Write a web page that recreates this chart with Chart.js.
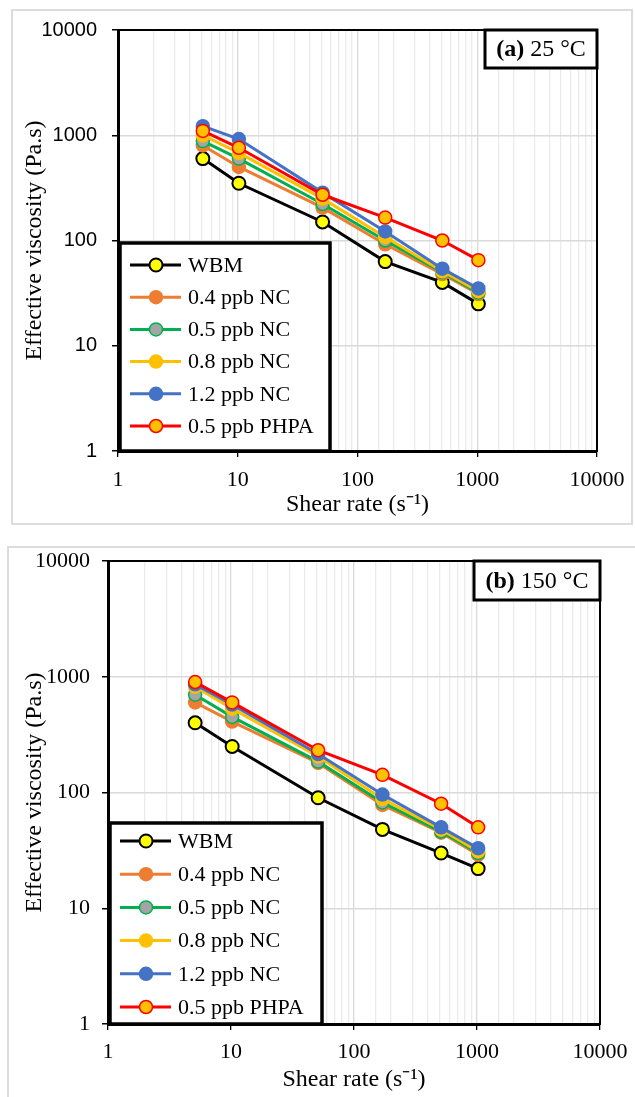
<!DOCTYPE html>
<html>
<head>
<meta charset="utf-8">
<script src="https://cdn.jsdelivr.net/npm/chart.js@4"></script>
<style>
    body { margin: 0; background: #fff; }
    .frame { position: absolute; border: 2px solid #dcdcdc; box-sizing: border-box; }
    canvas { position: absolute; }
</style>
</head>
<body>
<div class="frame" style="left:11px;top:9px;width:622px;height:516px;"></div>
<canvas id="chartA" width="620" height="513" style="left:12px;top:10px;"></canvas>
<div class="frame" style="left:7px;top:546px;width:640px;height:560px;"></div>
<canvas id="chartB" width="627" height="550" style="left:8px;top:547px;"></canvas>
<script>
// Shear rates (s-1) of the viscometer readings
const shearRate = [5.11, 10.22, 51.1, 170.3, 510.9, 1021.8];
const seriesNames = ['WBM', '0.4 ppb NC', '0.5 ppb NC', '0.8 ppb NC', '1.2 ppb NC', '0.5 ppb PHPA'];

// (a) 25 °C
const wbm25 = [600, 350, 150, 63, 40, 25];
const nc04At25 = [800, 500, 205, 92, 48, 31];
const nc05At25 = [880, 600, 222, 100, 50, 32];
const nc08At25 = [1000, 680, 250, 108, 51, 33];
const nc12At25 = [1220, 920, 285, 122, 54, 35];
const phpa25 = [1100, 760, 272, 165, 100, 65];

// (b) 150 °C
const wbm150 = [400, 250, 90, 48, 30, 22];
const nc04At150 = [600, 410, 180, 78, 45, 29];
const nc05At150 = [700, 450, 185, 82, 46, 30];
const nc08At150 = [820, 530, 205, 88, 48, 31];
const nc12At150 = [860, 575, 215, 96, 50, 33];
const phpa150 = [900, 600, 232, 142, 80, 50];

const axisTicks = [1, 10, 100, 1000, 10000];

const lineColors = ['#000000', '#ED7D31', '#00B050', '#FFC000', '#4472C4', '#FF0000'];
const markerColors = ['#FFFF00', '#ED7D31', '#A5A5A5', '#FFC000', '#4472C4', '#FFC000'];
const markerBorders = ['#000000', '#ED7D31', '#00B050', '#FFC000', '#4472C4', '#FF0000'];

const serif = '"Liberation Serif", "Times New Roman", serif';

function isDecade(value) {
    return axisTicks.some(t => Math.abs(t - value) < 1e-6 * t);
}

function decadeLabel(value) {
    return isDecade(value) ? String(Math.round(value)) : '';
}

// plot frame (top + right edges)
const plotFrame = {
    id: 'plotFrame',
    beforeDatasetsDraw(chart) {
        const { ctx, chartArea: a } = chart;
        ctx.save();
        ctx.strokeStyle = '#000';
        ctx.lineWidth = 2;
        ctx.strokeRect(a.left, a.top, a.right - a.left, a.bottom - a.top);
        ctx.restore();
    }
};

// legend in a black box at the bottom left of the plot
const boxLegend = {
    id: 'boxLegend',
    afterDraw(chart, args, opts) {
        const { ctx, chartArea: a } = chart;
        const x = a.left + 2;
        const y = a.bottom - opts.height;
        ctx.save();
        ctx.fillStyle = '#fff';
        ctx.fillRect(x, y, opts.width, opts.height);
        ctx.strokeStyle = '#000';
        ctx.lineWidth = 3.5;
        ctx.strokeRect(x, y, opts.width, opts.height);
        ctx.font = '22px ' + serif;
        ctx.textBaseline = 'middle';
        chart.data.datasets.forEach((ds, i) => {
            const ry = y + opts.firstRow + i * opts.rowGap;
            ctx.strokeStyle = ds.borderColor;
            ctx.lineWidth = 3;
            ctx.beginPath();
            ctx.moveTo(x + 10, ry);
            ctx.lineTo(x + 61, ry);
            ctx.stroke();
            ctx.beginPath();
            ctx.arc(x + 36, ry, ds.pointRadius, 0, Math.PI * 2);
            ctx.fillStyle = ds.pointBackgroundColor;
            ctx.fill();
            ctx.lineWidth = ds.pointBorderWidth;
            ctx.strokeStyle = ds.pointBorderColor;
            ctx.stroke();
            ctx.fillStyle = '#000';
            ctx.fillText(ds.label, x + 68, ry + 1);
        });
        ctx.restore();
    }
};

// "(a) 25 °C" tag at the top right
const panelTag = {
    id: 'panelTag',
    afterDraw(chart, args, opts) {
        const { ctx, chartArea: a } = chart;
        const x = a.right - opts.width;
        const y = a.top;
        ctx.save();
        ctx.fillStyle = '#fff';
        ctx.fillRect(x, y, opts.width, opts.height);
        ctx.strokeStyle = '#000';
        ctx.lineWidth = 3;
        ctx.strokeRect(x, y, opts.width, opts.height);
        ctx.fillStyle = '#000';
        ctx.textBaseline = 'middle';
        ctx.font = 'bold 24px ' + serif;
        const w1 = ctx.measureText(opts.tag).width;
        ctx.font = '24px ' + serif;
        const rest = ' ' + opts.text;
        const w2 = ctx.measureText(rest).width;
        const tx = x + (opts.width - w1 - w2) / 2;
        ctx.font = 'bold 24px ' + serif;
        ctx.fillText(opts.tag, tx, y + opts.height / 2 + 1);
        ctx.font = '24px ' + serif;
        ctx.fillText(rest, tx + w1, y + opts.height / 2 + 1);
        ctx.restore();
    }
};

function makeDatasets(seriesValues, radius) {
    return seriesValues.map((values, i) => ({
        label: seriesNames[i],
        data: shearRate.map((s, k) => ({ x: s, y: values[k] })),
        borderColor: lineColors[i],
        borderWidth: 3,
        pointRadius: radius,
        pointBackgroundColor: markerColors[i],
        pointBorderColor: markerBorders[i],
        pointBorderWidth: i === 0 ? 2 : 1.5,
        tension: 0,
        fill: false,
        order: seriesValues.length - 1 - i
    }));
}

function makeChart(canvasId, seriesValues, p) {
    const ctx = document.getElementById(canvasId).getContext('2d');
    return new Chart(ctx, {
        type: 'line',
        data: { datasets: makeDatasets(seriesValues, p.radius) },
        plugins: [plotFrame, boxLegend, panelTag],
        options: {
            responsive: false,
            animation: false,
            layout: { padding: { top: p.padTop, right: p.padRight, left: 0, bottom: 0 } },
            scales: {
                x: {
                    type: 'logarithmic',
                    min: 1,
                    max: 10000,
                    title: {
                        display: true,
                        text: 'Shear rate (s⁻¹)',
                        color: '#000',
                        font: { family: serif, size: 24 },
                        padding: { top: 0, bottom: p.xTitlePad }
                    },
                    grid: {
                        color: c => (c.tick && isDecade(c.tick.value)) ? '#d9d9d9' : '#ebebeb',
                        tickColor: c => (c.tick && isDecade(c.tick.value)) ? '#000' : 'rgba(0,0,0,0)',
                        tickLength: 6,
                        lineWidth: 1.3
                    },
                    border: { color: '#000', width: 3 },
                    ticks: {
                        autoSkip: false,
                        maxRotation: 0,
                        padding: p.xTickPad,
                        color: '#000',
                        font: { family: serif, size: 22 },
                        callback: decadeLabel
                    },
                    afterFit: scale => {
                        scale.height = p.xAxisHeight;
                        scale.paddingLeft = 0;
                        scale.paddingRight = 0;
                    }
                },
                y: {
                    type: 'logarithmic',
                    min: 1,
                    max: 10000,
                    title: {
                        display: true,
                        text: 'Effective viscosity (Pa.s)',
                        color: '#000',
                        font: { family: serif, size: 24 },
                        padding: { top: p.yTitlePad, bottom: 0 }
                    },
                    grid: {
                        color: c => (c.tick && isDecade(c.tick.value)) ? '#d9d9d9' : 'rgba(0,0,0,0)',
                        tickColor: c => (c.tick && isDecade(c.tick.value)) ? '#000' : 'rgba(0,0,0,0)',
                        tickLength: 6,
                        lineWidth: 1.5
                    },
                    border: { color: '#000', width: 3 },
                    ticks: {
                        autoSkip: false,
                        padding: p.yTickPad,
                        color: '#000',
                        font: p.yTickFont,
                        callback: decadeLabel
                    },
                    afterFit: scale => {
                        scale.width = p.yAxisWidth;
                        scale.paddingTop = 0;
                        scale.paddingBottom = 0;
                    }
                }
            },
            plugins: {
                legend: { display: false },
                tooltip: { enabled: false },
                boxLegend: { width: p.legendWidth, height: p.legendHeight, firstRow: p.legendFirstRow, rowGap: p.legendGap },
                panelTag: { tag: p.tag, text: p.tagText, width: p.tagWidth, height: p.tagHeight }
            }
        }
    });
}

const chartA = makeChart('chartA', [wbm25, nc04At25, nc05At25, nc08At25, nc12At25, phpa25], {
    radius: 6.5,
    padTop: 20, padRight: 35,
    xAxisHeight: 72, yAxisWidth: 106,
    xTickPad: 10, yTickPad: 15, xTitlePad: 4, yTitlePad: 8,
    yTickFont: { family: '"Liberation Sans", Arial, sans-serif', size: 20 },
    legendWidth: 210, legendHeight: 208, legendFirstRow: 22, legendGap: 32.2,
    tag: '(a)', tagText: '25 °C', tagWidth: 112, tagHeight: 38
});

const chartB = makeChart('chartB', [wbm150, nc04At150, nc05At150, nc08At150, nc12At150, phpa150], {
    radius: 6.5,
    padTop: 14, padRight: 35,
    xAxisHeight: 73, yAxisWidth: 100,
    xTickPad: 9, yTickPad: 12, xTitlePad: 3, yTitlePad: 12,
    yTickFont: { family: serif, size: 22 },
    legendWidth: 212, legendHeight: 201, legendFirstRow: 18, legendGap: 33.2,
    tag: '(b)', tagText: '150 °C', tagWidth: 126, tagHeight: 39
});
</script>
</body>
</html>
